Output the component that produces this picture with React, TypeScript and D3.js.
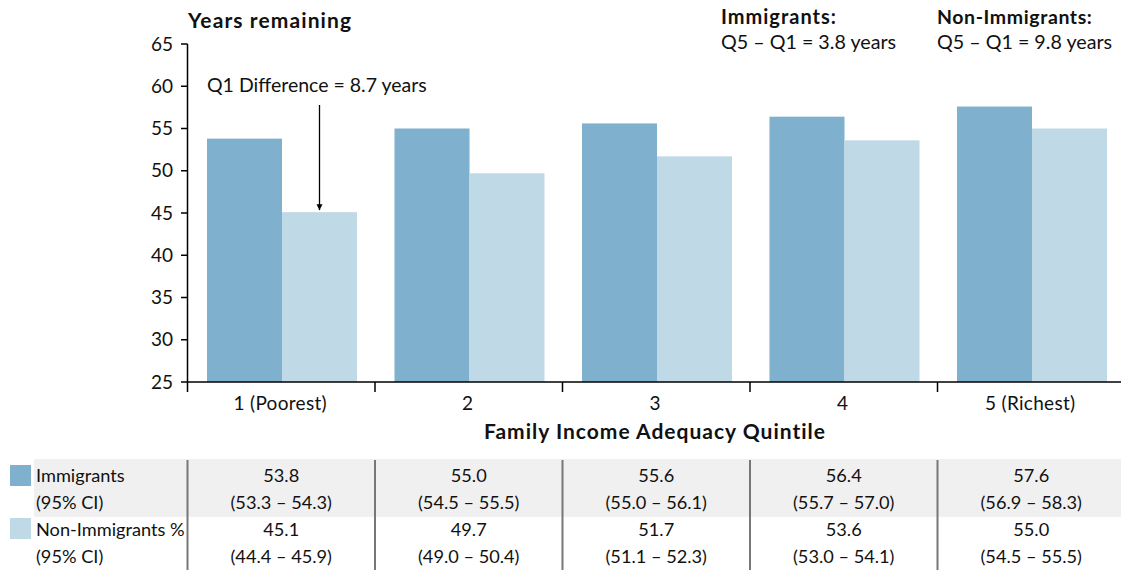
import React from "react";
import * as d3 from "d3";

const categories = ["1 (Poorest)", "2", "3", "4", "5 (Richest)"];
const series = ["Immigrants", "Non-Immigrants"];
const immigrants = [53.8, 55.0, 55.6, 56.4, 57.6];
const nonImmigrants = [45.1, 49.7, 51.7, 53.6, 55.0];
const immigrantsCI = ["(53.3 – 54.3)", "(54.5 – 55.5)", "(55.0 – 56.1)", "(55.7 – 57.0)", "(56.9 – 58.3)"];
const nonImmigrantsCI = ["(44.4 – 45.9)", "(49.0 – 50.4)", "(51.1 – 52.3)", "(53.0 – 54.1)", "(54.5 – 55.5)"];
const yTicks = [25, 30, 35, 40, 45, 50, 55, 60, 65];
const colors = ["#7fb0cd", "#c0d9e6"];

const W = 1121;
const H = 572;
const FONT = "Lato, 'Open Sans', sans-serif";

export default function App() {
  const y = d3.scaleLinear().domain([25, 65]).range([382, 44]);
  const x0 = d3.scaleBand<string>().domain(categories).range([187.5, 1125]).padding(0);
  const bw = x0.bandwidth();
  const x1 = d3.scaleBand<string>().domain(series).range([19.5, 169.5]).padding(0);
  const vals = [immigrants, nonImmigrants];

  const arrowX = (x0(categories[0]) as number) + (x1(series[1]) as number) + x1.bandwidth() / 2;
  const tf = 18.2;

  return (
    <svg width={W} height={H} style={{ position: "absolute", left: 0, top: 0, fontFamily: FONT }}>
      <defs>
        <marker id="arr" viewBox="0 0 10 10" refX="10" refY="5" markerWidth="6" markerHeight="9" orient="auto" markerUnits="userSpaceOnUse">
          <path d="M0,0 L10,5 L0,10 z" fill="#000" />
        </marker>
      </defs>
      <rect x={0} y={0} width={W} height={H} fill="#fff" />

      {/* bars */}
      {categories.map((c, i) => (
        <g key={c} transform={`translate(${x0(c)},0)`}>
          {series.map((s, j) => (
            <rect
              key={s}
              x={x1(s)}
              y={y(vals[j][i])}
              width={x1.bandwidth()}
              height={y(25) - y(vals[j][i])}
              fill={colors[j]}
            />
          ))}
        </g>
      ))}

      {/* y axis */}
      <line x1={187.5} x2={187.5} y1={y(65)} y2={392} stroke="#000" strokeWidth={1.5} />
      {yTicks.map((t) => (
        <g key={t}>
          <line x1={181} x2={187.5} y1={y(t)} y2={y(t)} stroke="#000" strokeWidth={1.5} />
          <text x={173} y={y(t)} dy="0.35em" textAnchor="end" fontSize={19} fill="#111">
            {t}
          </text>
        </g>
      ))}
      <text x={188} y={28} fontSize={21} fontWeight="bold" letterSpacing={1.1} fill="#111">
        Years remaining
      </text>

      {/* x axis */}
      <line x1={187.5} x2={1121} y1={y(25)} y2={y(25)} stroke="#000" strokeWidth={1.5} />
      {categories.map((c, i) => (
        <g key={c}>
          {i > 0 && (
            <line x1={x0(c)} x2={x0(c)} y1={y(25)} y2={392} stroke="#000" strokeWidth={1.5} />
          )}
          <text x={(x0(c) as number) + bw / 2 - 1} y={410} textAnchor="middle" fontSize={19} letterSpacing={0.3} fill="#111">
            {c}
          </text>
        </g>
      ))}
      <text x={655} y={439} textAnchor="middle" fontSize={21} fontWeight="bold" letterSpacing={1} fill="#111">
        Family Income Adequacy Quintile
      </text>

      {/* annotation */}
      <text x={207} y={92} fontSize={19.5} fill="#111">
        Q1 Difference = 8.7 years
      </text>
      <line x1={arrowX} x2={arrowX} y1={105} y2={y(nonImmigrants[0]) - 2} stroke="#000" strokeWidth={1.3} markerEnd="url(#arr)" />

      <text x={721} y={24} fontSize={20} fontWeight="bold" letterSpacing={1} fill="#111">Immigrants:</text>
      <text x={721} y={49} fontSize={19.7} fill="#111">Q5 – Q1 = 3.8 years</text>
      <text x={937} y={24} fontSize={19.5} fontWeight="bold" letterSpacing={0.6} fill="#111">Non-Immigrants:</text>
      <text x={937} y={49} fontSize={19.7} fill="#111">Q5 – Q1 = 9.8 years</text>

      {/* table */}
      <rect x={34} y={459} width={W - 34} height={58} fill="#f0f0f0" />
      <rect x={10} y={465} width={21} height={21} fill={colors[0]} />
      <rect x={10} y={518} width={21} height={21} fill={colors[1]} />
      <text x={36} y={482} fontSize={tf} fill="#111">Immigrants</text>
      <text x={36} y={509} fontSize={tf} fill="#111">(95% CI)</text>
      <text x={36} y={536} fontSize={tf} fill="#111">Non-Immigrants %</text>
      <text x={36} y={563} fontSize={tf} fill="#111">(95% CI)</text>
      {categories.map((c, i) => {
        const cx = (x0(c) as number) + bw / 2;
        return (
          <g key={c}>
            <line x1={x0(c) as number} x2={x0(c) as number} y1={460} y2={570} stroke="#777" strokeWidth={2} />
            <text x={cx} y={482} textAnchor="middle" fontSize={tf} fill="#111">{immigrants[i].toFixed(1)}</text>
            <text x={cx} y={509} textAnchor="middle" fontSize={tf} fill="#111">{immigrantsCI[i]}</text>
            <text x={cx} y={536} textAnchor="middle" fontSize={tf} fill="#111">{nonImmigrants[i].toFixed(1)}</text>
            <text x={cx} y={563} textAnchor="middle" fontSize={tf} fill="#111">{nonImmigrantsCI[i]}</text>
          </g>
        );
      })}
    </svg>
  );
}
